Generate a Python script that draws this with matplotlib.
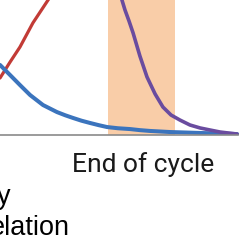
import matplotlib
matplotlib.use("Agg")
import matplotlib.pyplot as plt

# 讀圖估計的數值 (時間 0~10, 數值 0~100)
red_t = [0, 0.40, 0.79, 1.30, 1.90, 2.37]
red_y = [42.2, 54.1, 65.2, 83.0, 100, 113.3]

blue_t = [0, 0.40, 0.79, 1.19, 1.70, 2.25, 2.58, 2.89, 3.22, 3.56, 3.90, 4.23,
          4.66, 5.14, 5.53, 5.93, 6.72, 7.91, 9.37]
blue_y = [51.9, 44.4, 37.0, 29.6, 22.2, 17.0, 14.6, 12.6, 10.6, 8.9, 7.3, 5.9,
          5.0, 4.4, 3.6, 3.0, 2.2, 1.5, 0.7]

purple_t = [4.66, 4.82, 4.94, 5.10, 5.26, 5.53, 5.81, 6.13, 6.44, 6.76, 7.11,
            7.51, 7.91, 8.30, 8.70, 9.37]
purple_y = [111.1, 100, 92.6, 84.4, 75.6, 58.5, 43.0, 30.4, 20.7, 14.8, 11.1,
            7.4, 5.2, 3.7, 2.2, 0.7]

band_start = 4.27
band_end = 6.92
band_label = "End of cycle"

fig = plt.figure(figsize=(2.53, 2.46), dpi=100)
ax = fig.add_axes([0, 1 - 135 / 246, 1, 135 / 246])

ax.axvspan(band_start, band_end, color="#F9CDA8", lw=0, zorder=0)
ax.plot(red_t, red_y, color="#C23B36", lw=2.3, solid_capstyle="round")
ax.plot(blue_t, blue_y, color="#3B74BD", lw=2.9, solid_capstyle="round",
        solid_joinstyle="round")
ax.plot(purple_t, purple_y, color="#6A4C9F", lw=2.6, solid_capstyle="round",
        solid_joinstyle="round")

ax.set_xlim(0, 10)
ax.set_ylim(0, 100)
for s in ["top", "right", "left"]:
    ax.spines[s].set_visible(False)
ax.spines["bottom"].set_color("#8a8a8a")
ax.spines["bottom"].set_linewidth(1.2)
ax.spines["bottom"].set_bounds(0, 9.4)
ax.set_xticks([])
ax.set_yticks([])
ax.patch.set_alpha(0)

# 文字 (參考圖左下角的字本來就被裁掉一部分)
fig.text(0.567, 1 - 172 / 246, band_label, ha="center", va="baseline",
         family="Roboto", fontsize=19, color="#1a1a1a")
fig.text(-3 / 253, 1 - 204 / 246, "y", ha="left", va="baseline",
         family="Liberation Sans", fontsize=19.5, color="black")
fig.text(-10 / 253, 1 - 235 / 246, "elation", ha="left", va="baseline",
         family="Liberation Sans", fontsize=19.5, color="black")

fig.savefig("out.png", dpi=100)
